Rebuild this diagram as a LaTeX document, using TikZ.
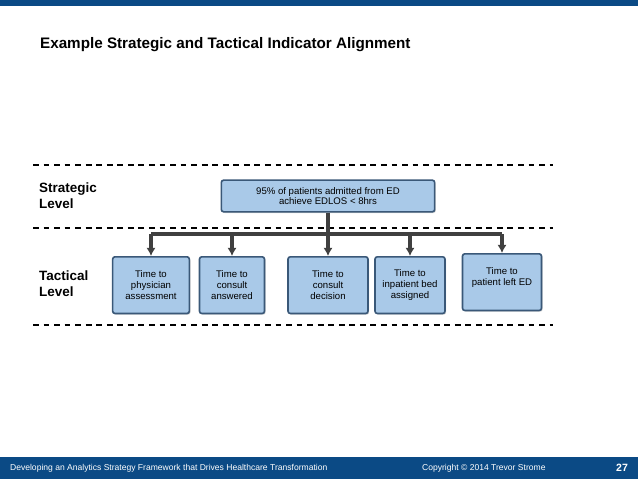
\documentclass[tikz,border=0pt]{standalone}
\usepackage{fontspec}
\setmainfont{Liberation Sans}
\usetikzlibrary{shadows,arrows.meta}
\definecolor{barblue}{HTML}{0B4A85}
\definecolor{boxfill}{HTML}{A9C9E8}
\definecolor{boxline}{HTML}{3A5878}
\begin{document}
\begin{tikzpicture}[
    x=0.03cm, y=-0.03cm,
    kpi/.style={
        draw=boxline,
        fill=boxfill,
        rounded corners=2pt,
        line width=1.4pt,
        align=center,
        font=\fontsize{8.2}{9.2}\selectfont,
        drop shadow={opacity=0.35, shadow xshift=1pt, shadow yshift=-1pt}
    },
    level/.style={
        anchor=north west,
        align=left,
        font=\fontsize{11.5}{13.5}\selectfont\bfseries
    },
    sep/.style={dashed, line width=1pt, dash pattern=on 5pt off 4pt},
    link/.style={line width=2.6pt, draw=black!75}
]

\useasboundingbox (0,0) rectangle (638,479);
\fill[barblue] (0,0) rectangle (638,6);
\fill[barblue] (0,457) rectangle (638,479);

\node[anchor=west, font=\fontsize{13}{15}\selectfont\bfseries] (title) at (36,45) {Example Strategic and Tactical Indicator Alignment};

\draw[sep] (33,165) -- (553,165);
\draw[sep] (33,228) -- (553,228);
\draw[sep] (33,325) -- (553,325);

\node[level] (strategic) at (35,179) {Strategic\\Level};
\node[level] (tactical) at (35,267) {Tactical\\Level};

\node[kpi, minimum width=6.4cm, minimum height=0.95cm] (goal) at (328,196) {95\% of patients admitted from ED\\achieve EDLOS < 8hrs};

\node[kpi, minimum width=2.3cm, minimum height=1.7cm, anchor=north] (physician) at (151,256) {Time to\\physician\\assessment};
\node[kpi, minimum width=1.95cm, minimum height=1.7cm, anchor=north] (answered) at (232,256) {Time to\\consult\\answered};
\node[kpi, minimum width=2.4cm, minimum height=1.7cm, anchor=north] (decision) at (328,256) {Time to\\consult\\decision};
\node[kpi, minimum width=2.1cm, minimum height=1.7cm, anchor=north] (bed) at (410,256) {Time to\\inpatient bed\\assigned};
\node[kpi, minimum width=2.37cm, minimum height=1.7cm, anchor=north] (leftED) at (502,253) {Time to\\patient left ED\\\mbox{}};

\coordinate (bus) at (328,234);
\draw[link] (goal.south) -- (bus);
\draw[link] (physician.north |- bus) -- (leftED.north |- bus);
\foreach \t in {physician,answered,decision,bed,leftED}
    \draw[link, -{Latex[length=7pt,width=8pt]}] (\t.north |- bus) -- (\t.north);

\node[anchor=west, text=white, font=\fontsize{7.3}{8.5}\selectfont] (footer) at (6,468) {Developing an Analytics Strategy Framework that Drives Healthcare Transformation};
\node[anchor=west, text=white, font=\fontsize{7.3}{8.5}\selectfont] (copy) at (418,468) {Copyright © 2014 Trevor Strome};
\node[anchor=east, text=white, font=\fontsize{9}{10}\selectfont\bfseries] (page) at (632,468) {27};

\end{tikzpicture}
\end{document}
